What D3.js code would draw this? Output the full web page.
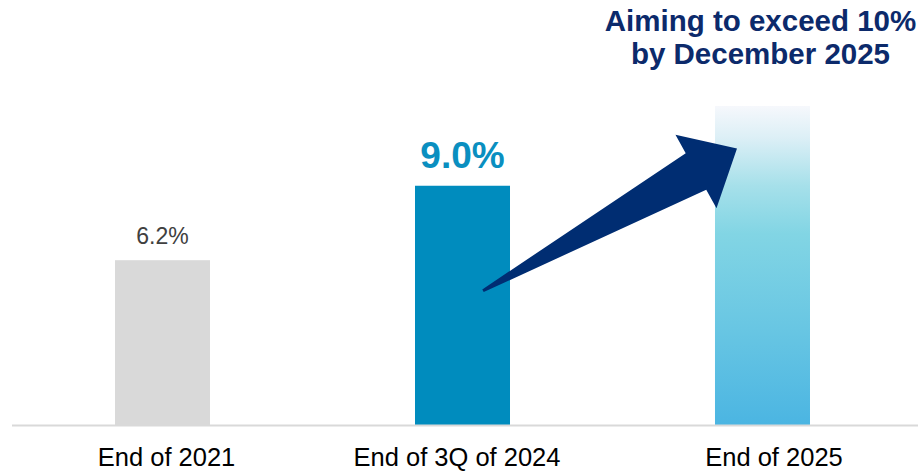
<!DOCTYPE html>
<html>
<head>
<meta charset="utf-8">
<script src="https://cdn.jsdelivr.net/npm/d3@7/dist/d3.min.js"></script>
<style>
  html, body { margin: 0; padding: 0; background: #ffffff; }
  svg { display: block; font-family: "Liberation Sans", Arial, Helvetica, sans-serif; }
</style>
</head>
<body>
<svg id="chart" width="918" height="471"></svg>
<script>
// Ratio by period (%)
const categories = ["End of 2021", "End of 3Q of 2024", "End of 2025"];
const values = [6.2, 9.0, 12.0];
const valueLabels = ["6.2%", "9.0%", null];
const titleLines = ["Aiming to exceed 10%", "by December 2025"];

const W = 918, H = 471;
// horizontal nudges of the category labels relative to bar centres (px)
const labelNudge = [4, -5.5, 11.5];
const svg = d3.select("#chart");

const x = d3.scaleBand()
  .domain(categories)
  .range([12.5, 912.5])
  .paddingInner(0.6833)
  .paddingOuter(0.3417);

const y = d3.scaleLinear().domain([0, 12]).range([425, 106]);

// gradient for the target bar
const defs = svg.append("defs");
const grad = defs.append("linearGradient")
  .attr("id", "targetGrad").attr("x1", 0).attr("y1", 0).attr("x2", 0).attr("y2", 1);
[[0, "#f6f8fc"], [0.1, "#dceff6"], [0.25, "#a6e0ea"], [0.4, "#82d5e4"],
 [0.7, "#68c6e3"], [1, "#4bb5e2"]].forEach(([o, c]) =>
  grad.append("stop").attr("offset", o).attr("stop-color", c));

const fills = ["#d9d9d9", "#008cbe", "url(#targetGrad)"];

// bars
svg.append("g").selectAll("rect")
  .data(values)
  .join("rect")
  .attr("x", (d, i) => x(categories[i]))
  .attr("y", d => y(d))
  .attr("width", x.bandwidth())
  .attr("height", d => y(0) - y(d))
  .attr("fill", (d, i) => fills[i]);

// baseline
svg.append("line")
  .attr("x1", 12).attr("x2", W)
  .attr("y1", y(0) + 0.5).attr("y2", y(0) + 0.5)
  .attr("stroke", "#d9d9d9").attr("stroke-width", 2);

// category labels
const xAxis = d3.axisBottom(x).tickSize(0).tickPadding(0);
const gx = svg.append("g").attr("transform", `translate(0,${y(0) + 23})`).call(xAxis);
gx.select(".domain").remove();
gx.selectAll("text")
  .attr("font-size", 25.5)
  .attr("fill", "#000000")
  .attr("font-family", "'Liberation Sans', Arial, sans-serif")
  .attr("x", (d, i) => labelNudge[i])
  .attr("dy", "0.71em");

// value labels
const cx = i => x(categories[i]) + x.bandwidth() / 2;
svg.append("text")
  .attr("x", cx(0)).attr("y", y(values[0]) - 16)
  .attr("text-anchor", "middle")
  .attr("font-size", 23).attr("fill", "#404040")
  .text(valueLabels[0]);
svg.append("text")
  .attr("x", cx(1)).attr("y", y(values[1]) - 18)
  .attr("text-anchor", "middle")
  .attr("font-size", 37).attr("font-weight", "bold").attr("fill", "#0a8fc0")
  .text(valueLabels[1]);

// target heading
const title = svg.append("text")
  .attr("text-anchor", "middle")
  .attr("font-size", 29.5).attr("font-weight", "bold").attr("fill", "#0c2a6b");
titleLines.forEach((t, i) =>
  title.append("tspan").attr("x", cx(2) - 2).attr("y", 31 + i * 33).text(t));

// growth arrow from the current bar toward the target bar
function arrowPath(tail, tip, headLen, headHalf, shaftHalf, tailHalf) {
  const dx = tip[0] - tail[0], dy = tip[1] - tail[1];
  const len = Math.hypot(dx, dy);
  const ux = dx / len, uy = dy / len;
  const nx = -uy, ny = ux;
  const base = [tip[0] - ux * headLen, tip[1] - uy * headLen];
  const p = (pt, s) => [pt[0] + nx * s, pt[1] + ny * s];
  const pts = [
    p(tail, tailHalf), p(base, shaftHalf), p(base, headHalf), tip,
    p(base, -headHalf), p(base, -shaftHalf), p(tail, -tailHalf)
  ];
  return "M" + pts.map(q => q.join(",")).join("L") + "Z";
}
const tail = [cx(1) + 20.5, y(5.05)];
const tip = [x(categories[2]) + 22, y(10.4)];
svg.append("path")
  .attr("d", arrowPath(tail, tip, 47, 42, 21, 1.5))
  .attr("fill", "#002d72");
</script>
</body>
</html>
